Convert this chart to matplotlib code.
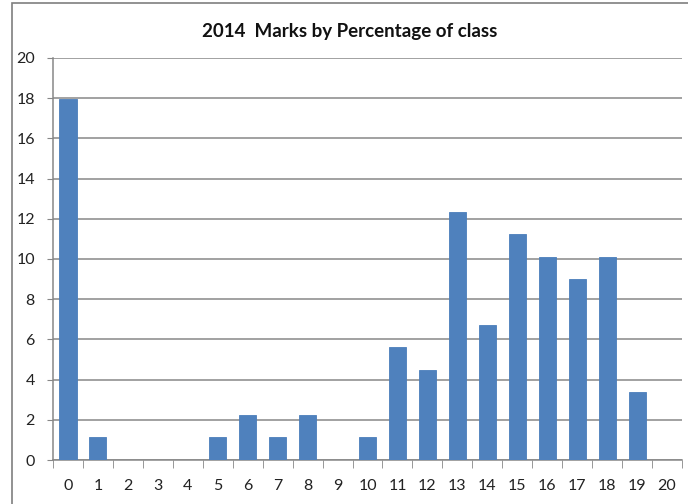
import numpy as np
import matplotlib.pyplot as plt
from matplotlib.patches import Rectangle

marks = list(range(21))
percent = [17.98, 1.12, 0, 0, 0, 1.12, 2.25, 1.12, 2.25, 0, 1.12,
           5.62, 4.49, 12.36, 6.74, 11.24, 10.11, 8.99, 10.11, 3.37, 0]
y_ticks = list(range(0, 21, 2))

plt.rcParams['font.family'] = ['Lato', 'DejaVu Sans']

fig = plt.figure(figsize=(6.88, 5.04), dpi=100)
ax = fig.add_axes([53 / 688, 1 - 460 / 504, 629 / 688, 402 / 504])

ax.bar(marks, percent, width=0.57, color="#4F81BD", edgecolor="#4A7EBB",
       linewidth=0.6, zorder=3)

ax.set_xlim(-0.5, 20.5)
ax.set_ylim(0, 20)
ax.set_yticks(y_ticks)
ax.set_xticks(marks)
ax.set_xticks(np.arange(-0.5, 21, 1), minor=True)
ax.yaxis.grid(True, color="#878787", linewidth=1.1, zorder=0)

for side in ["top", "right"]:
    ax.spines[side].set_visible(False)
for side in ["left", "bottom"]:
    ax.spines[side].set_color("#878787")
    ax.spines[side].set_linewidth(1.1)

ax.tick_params(axis="y", length=4, color="#878787", pad=9, labelsize=11.5,
               labelcolor="#222222")
ax.tick_params(axis="x", which="major", length=0, pad=14, labelsize=11.5,
               labelcolor="#222222")
ax.tick_params(axis="x", which="minor", length=6, color="#878787")

fig.text(350 / 688, 1 - 32 / 504, "2014  Marks by Percentage of class",
         ha="center", va="center", fontsize=13.5, fontweight="bold",
         color="#111111")

# outer chart border
fig.patches.append(Rectangle((12 / 688, -0.1), 1.2, (504 - 3) / 504 + 0.1,
                             transform=fig.transFigure, fill=False,
                             edgecolor="#7f7f7f", linewidth=1.2))

fig.savefig("out.png", dpi=100)
